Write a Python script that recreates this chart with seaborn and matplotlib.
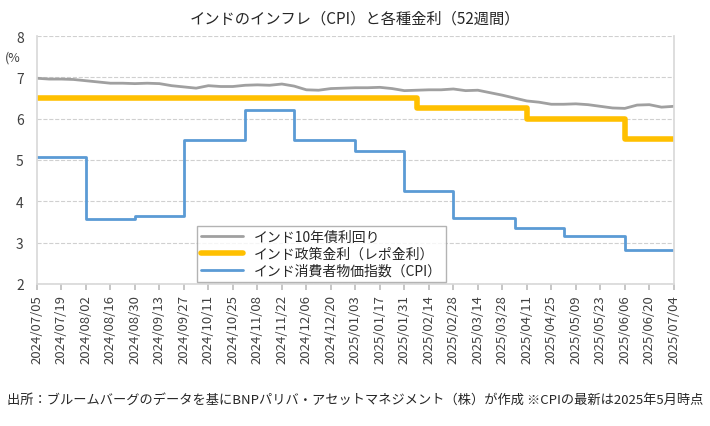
import numpy as np
import pandas as pd
import matplotlib
matplotlib.use("Agg")
import matplotlib.pyplot as plt
import seaborn as sns

dates = pd.date_range("2024-07-05", "2025-07-04", freq="7D")

yield10 = [6.98, 6.96, 6.96, 6.95, 6.92, 6.89, 6.86, 6.86, 6.85, 6.86, 6.85, 6.80, 6.77, 6.74,
           6.80, 6.78, 6.78, 6.81, 6.82, 6.81, 6.84, 6.79, 6.70, 6.69, 6.73, 6.74, 6.75, 6.75,
           6.76, 6.73, 6.68, 6.69, 6.70, 6.70, 6.72, 6.68, 6.69, 6.63, 6.57, 6.50, 6.43, 6.40,
           6.35, 6.35, 6.36, 6.34, 6.30, 6.26, 6.25, 6.33, 6.34, 6.28, 6.30]
repo = [6.5] * 31 + [6.25] * 9 + [6.0] * 8 + [5.5] * 5
cpi = ([5.07] * 4 + [3.58] * 4 + [3.65] * 4 + [5.49] * 5 + [6.21] * 4 + [5.48] * 5 +
       [5.22] * 4 + [4.26] * 4 + [3.59] * 5 + [3.34] * 4 + [3.16] * 5 + [2.82] * 5)

df = pd.DataFrame({"date": dates, "yield": yield10, "repo": repo, "cpi": cpi})

sns.set_theme(style="white")
plt.rcParams['font.family'] = ['Noto Sans CJK JP', 'DejaVu Sans']

fig = plt.figure(figsize=(7.1, 4.27), dpi=100)
ax = fig.add_axes([0.052, 0.333, 0.897, 0.58])

sns.lineplot(data=df, x="date", y="yield", ax=ax, color="#a0a0a0", lw=2, label="インド10年債利回り")
sns.lineplot(data=df, x="date", y="repo", ax=ax, color="#ffc000", lw=4, drawstyle="steps-post",
             label="インド政策金利（レポ金利）")
sns.lineplot(data=df, x="date", y="cpi", ax=ax, color="#5b9bd5", lw=2, drawstyle="steps-post",
             label="インド消費者物価指数（CPI）")

ax.set_ylim(2, 8)
ax.set_xlim(dates[0], dates[-1])
ax.set_yticks(range(2, 9))
ax.yaxis.grid(True, ls="--", color="#d0d0d0", lw=0.8)
ax.set_xticks(dates[::2])
ax.set_xticklabels([d.strftime("%Y/%m/%d") for d in dates[::2]], rotation=90, fontsize=9.5, color="#404040")
ax.tick_params(axis="y", labelsize=10, colors="#404040")
ax.tick_params(axis="x", bottom=True, length=4, color="#bfbfbf")
ax.set_xlabel("")
ax.set_ylabel("")
for s in ["top"]:
    ax.spines[s].set_visible(False)
for s in ["left", "bottom", "right"]:
    ax.spines[s].set_color("#d9d9d9")
ax.text(-0.05, 0.9, "(%", transform=ax.transAxes, fontsize=9, color="#404040")

leg = ax.legend(loc="lower left", bbox_to_anchor=(0.24, -0.02), fontsize=10, frameon=True,
                fancybox=False, edgecolor="#a0a0a0", handlelength=3, borderpad=0.3, labelspacing=0.2)
leg.get_frame().set_linewidth(1)

fig.suptitle("インドのインフレ（CPI）と各種金利（52週間）", y=0.975, fontsize=11, color="#262626")
fig.text(0.01, 0.055, "出所：ブルームバーグのデータを基にBNPパリバ・アセットマネジメント（株）が作成 ※CPIの最新は2025年5月時点",
         fontsize=9.5, color="#262626")

fig.savefig("out.png", dpi=100)
